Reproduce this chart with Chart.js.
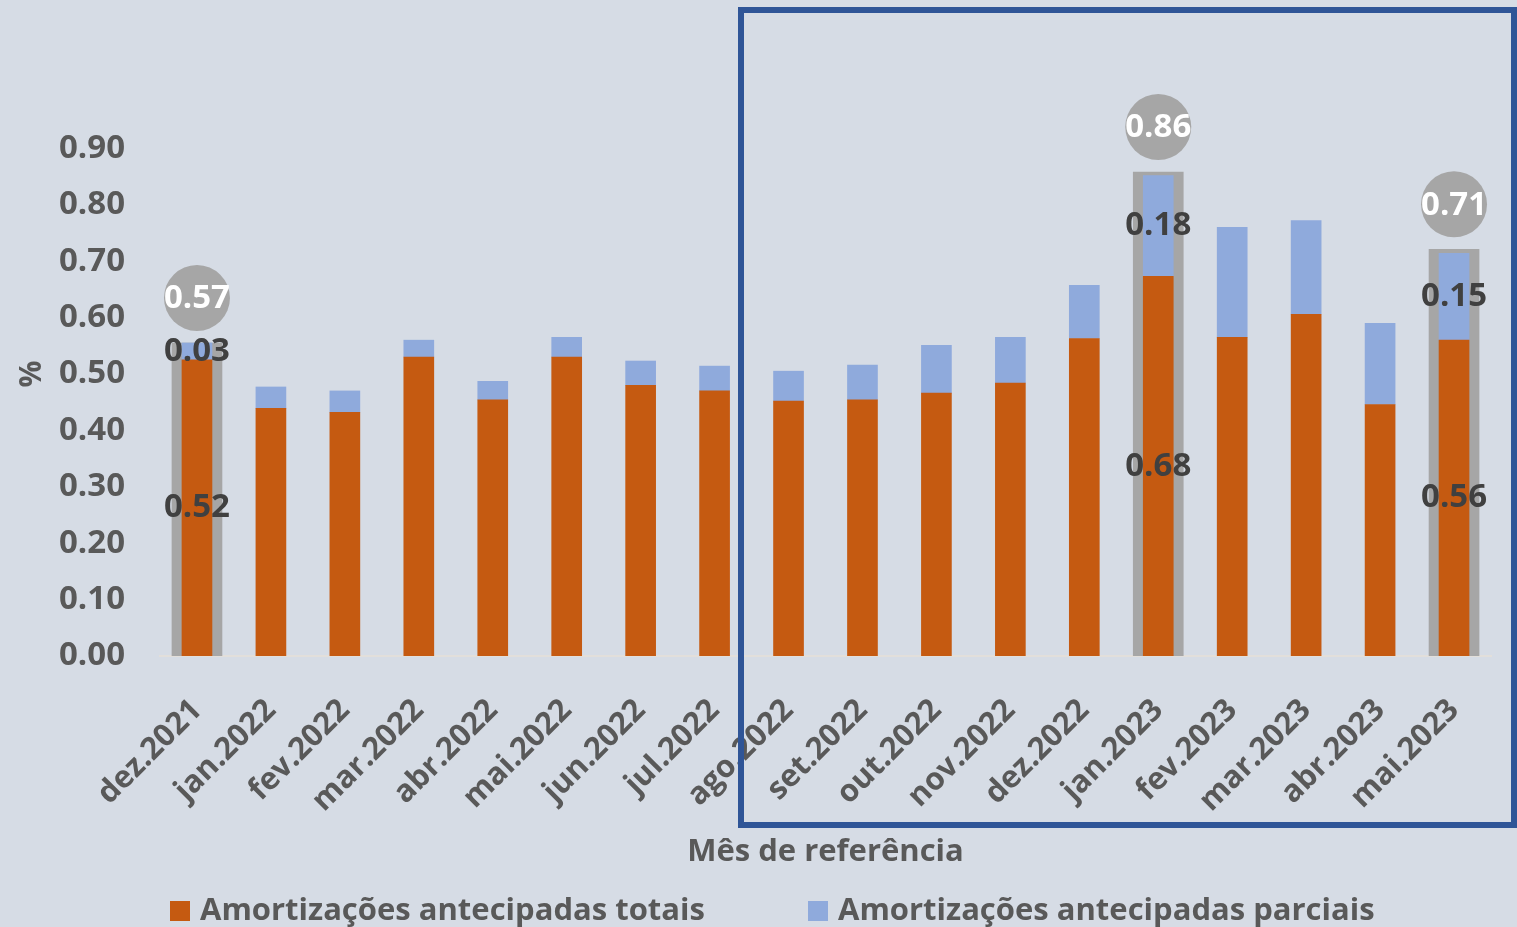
<!DOCTYPE html>
<html>
<head>
<meta charset="utf-8">
<script src="https://cdn.jsdelivr.net/npm/chart.js@4"></script>
<style>
  html, body { margin: 0; padding: 0; background: #d6dce5; }
  #wrap { width: 1517px; height: 927px; position: relative; }
</style>
</head>
<body>
<div id="wrap"><canvas id="c" width="1517" height="927"></canvas></div>
<script>
const categories = ['dez.2021','jan.2022','fev.2022','mar.2022','abr.2022','mai.2022','jun.2022','jul.2022','ago.2022','set.2022','out.2022','nov.2022','dez.2022','jan.2023','fev.2023','mar.2023','abr.2023','mai.2023'];
const totais   = [0.525,0.439,0.432,0.530,0.454,0.530,0.480,0.470,0.452,0.454,0.466,0.484,0.563,0.673,0.565,0.606,0.446,0.560];
const parciais = [0.030,0.038,0.038,0.030,0.033,0.035,0.043,0.044,0.053,0.062,0.085,0.081,0.094,0.179,0.195,0.166,0.144,0.154];
const destaqueTotal = [0.555,null,null,null,null,null,null,null,null,null,null,null,null,0.858,null,null,null,0.721];
const rotuloTotais   = ['0.52',null,null,null,null,null,null,null,null,null,null,null,null,'0.68',null,null,null,'0.56'];
const rotuloParciais = ['0.03',null,null,null,null,null,null,null,null,null,null,null,null,'0.18',null,null,null,'0.15'];
const rotuloDestaque = ['0.57',null,null,null,null,null,null,null,null,null,null,null,null,'0.86',null,null,null,'0.71'];
const yTicks = [0,0.1,0.2,0.3,0.4,0.5,0.6,0.7,0.8,0.9];

const FONT = "'Open Sans', sans-serif";
const TXT = '#595959';

const bgPlugin = {
  id: 'bg',
  beforeDraw(chart) {
    const ctx = chart.ctx;
    ctx.save();
    ctx.fillStyle = '#d6dce5';
    ctx.fillRect(0, 0, chart.width, chart.height);
    ctx.restore();
  },
  beforeDatasetsDraw(chart) {
    const ctx = chart.ctx;
    ctx.save();
    ctx.strokeStyle = '#2f5597';
    ctx.lineWidth = 6;
    ctx.strokeRect(741, 10, 773, 815);
    ctx.restore();
  }
};

const labelPlugin = {
  id: 'labels',
  afterDatasetsDraw(chart) {
    const ctx = chart.ctx;
    ctx.save();
    ctx.textAlign = 'center';
    ctx.textBaseline = 'middle';
    const mOr = chart.getDatasetMeta(0), mBl = chart.getDatasetMeta(1), mGr = chart.getDatasetMeta(2);
    ctx.font = "bold 33px " + FONT;
    ctx.fillStyle = '#404040';
    categories.forEach((c, i) => {
      if (rotuloTotais[i]) {
        const el = mOr.data[i];
        ctx.fillText(rotuloTotais[i], el.x, (el.y + el.base) / 2);
      }
      if (rotuloParciais[i]) {
        const el = mBl.data[i];
        ctx.fillText(rotuloParciais[i], el.x, (el.y + el.base) / 2);
      }
    });
    categories.forEach((c, i) => {
      if (rotuloDestaque[i]) {
        const el = mGr.data[i];
        const cy = el.y - 45;
        ctx.fillStyle = '#a6a6a6';
        ctx.beginPath();
        ctx.arc(el.x, cy, 33, 0, Math.PI * 2);
        ctx.fill();
        ctx.fillStyle = '#ffffff';
        ctx.fillText(rotuloDestaque[i], el.x, cy + 1);
      }
    });
    ctx.restore();
  },
  afterDraw(chart) {
    // legend (two series, drawn from dataset labels/colours)
    const ctx = chart.ctx;
    ctx.save();
    ctx.font = "bold 31px " + FONT;
    ctx.textBaseline = 'middle';
    ctx.textAlign = 'left';
    const y = 911;
    const starts = [170, 808];
    [0, 1].forEach((d, k) => {
      const ds = chart.data.datasets[d];
      ctx.fillStyle = ds.backgroundColor;
      ctx.fillRect(starts[k], y - 10, 20, 20);
      ctx.fillStyle = TXT;
      ctx.fillText(ds.label, starts[k] + 30, y);
    });
    ctx.restore();
  }
};

new Chart(document.getElementById('c'), {
  type: 'bar',
  data: {
    labels: categories,
    datasets: [
      { label: 'Amortizações antecipadas totais', data: totais, backgroundColor: '#c55a11', stack: 'm', barThickness: 30, grouped: false, order: 1 },
      { label: 'Amortizações antecipadas parciais', data: parciais, backgroundColor: '#8faadc', stack: 'm', barThickness: 30, grouped: false, order: 1 },
      { label: 'Total', data: destaqueTotal, backgroundColor: '#a6a6a6', stack: 'g', barThickness: 50, grouped: false, order: 2 }
    ]
  },
  options: {
    responsive: false,
    animation: false,
    layout: { padding: { left: 0, right: 24, top: 92, bottom: 56 } },
    scales: {
      x: {
        stacked: true,
        afterFit(s) { s.height = 215; },
        grid: { display: false, drawTicks: false },
        border: { display: true, color: '#e2dfdb', width: 2 },
        ticks: { color: TXT, font: { family: FONT, size: 31, weight: 'bold' }, minRotation: 45, maxRotation: 45, padding: 36 },
        title: { display: true, text: 'Mês de referência', color: TXT, font: { family: FONT, size: 31, weight: 'bold' }, padding: { top: 0, bottom: 0 } }
      },
      y: {
        stacked: true,
        min: 0, max: 1.0,
        afterFit(s) { s.width = 160; },
        afterBuildTicks(s) { s.ticks = yTicks.map(v => ({ value: v })); },
        grid: { display: false, drawTicks: false },
        border: { display: false },
        ticks: { color: TXT, font: { family: FONT, size: 33, weight: 'bold' }, padding: 35, callback: v => v.toFixed(2) },
        title: { display: true, text: '%', color: TXT, font: { family: FONT, size: 30, weight: 'bold' }, padding: { top: 14, bottom: 0 } }
      }
    },
    plugins: {
      legend: { display: false },
      tooltip: { enabled: false }
    }
  },
  plugins: [bgPlugin, labelPlugin]
});
</script>
</body>
</html>
